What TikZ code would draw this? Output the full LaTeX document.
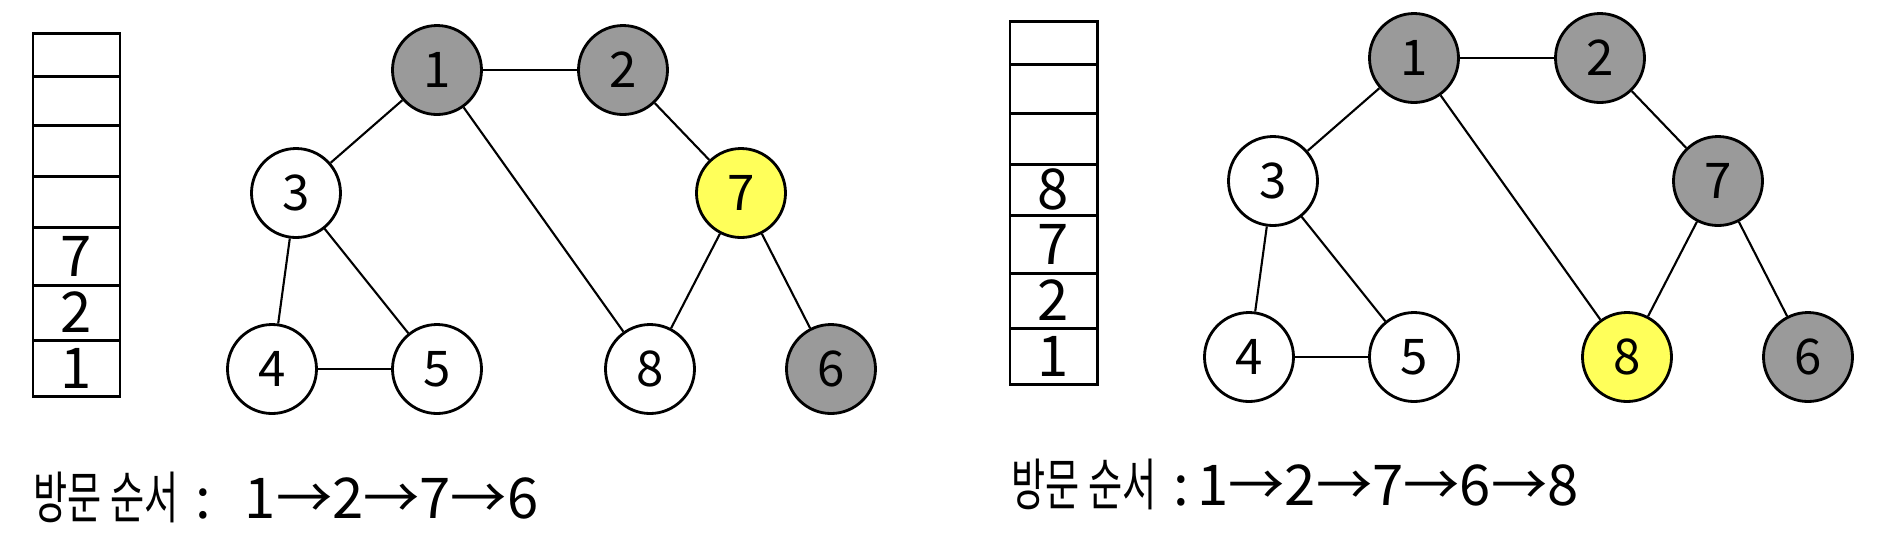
\documentclass[tikz,border=0pt]{standalone}
\usepackage{fontspec}
\setmainfont{Noto Sans CJK KR}
\newfontfamily\narrowkr[FakeStretch=0.66]{Noto Sans CJK KR}

\definecolor{visitgray}{HTML}{9A9A9A}
\definecolor{nowyellow}{HTML}{FFFF5A}

\begin{document}
\begin{tikzpicture}[
  vertex/.style={circle, draw, line width=0.8pt, minimum size=0.89cm, inner sep=0pt, font=\fontsize{14}{16}\selectfont},
  visited/.style={vertex, fill=visitgray},
  current/.style={vertex, fill=nowyellow},
  edge/.style={line width=0.6pt},
  cell/.style={line width=0.85pt},
  cellnum/.style={font=\fontsize{16}{18}\selectfont},
  order/.style={anchor=west, inner sep=0pt, font=\fontsize{16}{20}\selectfont}
]
  \useasboundingbox (0,0) rectangle (19.01,5.5);

  % Left: stack
  \draw[cell] (0.33,1.54) rectangle (1.20,5.17);
  \foreach \y in {4.74,4.25,3.74,3.23,2.65,2.10}
    \draw[cell] (0.33,\y) -- (1.20,\y);
  \node[cellnum] (sa1) at (0.765,1.82) {1};
  \node[cellnum] (sa2) at (0.765,2.375) {2};
  \node[cellnum] (sa3) at (0.765,2.94) {7};

  % Left: graph
  \node[visited] (a1) at (4.37,4.80) {1};
  \node[visited] (a2) at (6.23,4.80) {2};
  \node[vertex]  (a3) at (2.96,3.57) {3};
  \node[current] (a7) at (7.41,3.57) {7};
  \node[vertex]  (a4) at (2.72,1.81) {4};
  \node[vertex]  (a5) at (4.37,1.81) {5};
  \node[vertex]  (a8) at (6.50,1.81) {8};
  \node[visited] (a6) at (8.31,1.81) {6};
  \foreach \u/\v in {1/2,1/3,1/8,2/7,3/4,3/5,4/5,7/8,7/6}
    \draw[edge] (a\u) -- (a\v);

  \node[order] (ordera) at (0.33,0.53)
    {{\narrowkr 방문 순서}\hspace{0.3em}:\hspace{0.6em}1→2→7→6};

  % Right: one step later
  \begin{scope}[xshift=9.77cm, yshift=0.12cm]
    \draw[cell] (0.33,1.54) rectangle (1.20,5.17);
    \foreach \y in {4.74,4.25,3.74,3.23,2.65,2.10}
      \draw[cell] (0.33,\y) -- (1.20,\y);
    \node[cellnum] (sb1) at (0.765,1.82) {1};
    \node[cellnum] (sb2) at (0.765,2.375) {2};
    \node[cellnum] (sb3) at (0.765,2.94) {7};
    \node[cellnum] (sb4) at (0.765,3.485) {8};

    \node[visited] (b1) at (4.37,4.80) {1};
    \node[visited] (b2) at (6.23,4.80) {2};
    \node[vertex]  (b3) at (2.96,3.57) {3};
    \node[visited] (b7) at (7.41,3.57) {7};
    \node[vertex]  (b4) at (2.72,1.81) {4};
    \node[vertex]  (b5) at (4.37,1.81) {5};
    \node[current] (b8) at (6.50,1.81) {8};
    \node[visited] (b6) at (8.31,1.81) {6};
    \foreach \u/\v in {1/2,1/3,1/8,2/7,3/4,3/5,4/5,7/8,7/6}
      \draw[edge] (b\u) -- (b\v);

    \node[order] (orderb) at (0.34,0.54)
      {{\narrowkr 방문 순서}\hspace{0.3em}:\hspace{0.15em}1→2→7→6→8};
  \end{scope}
\end{tikzpicture}
\end{document}
